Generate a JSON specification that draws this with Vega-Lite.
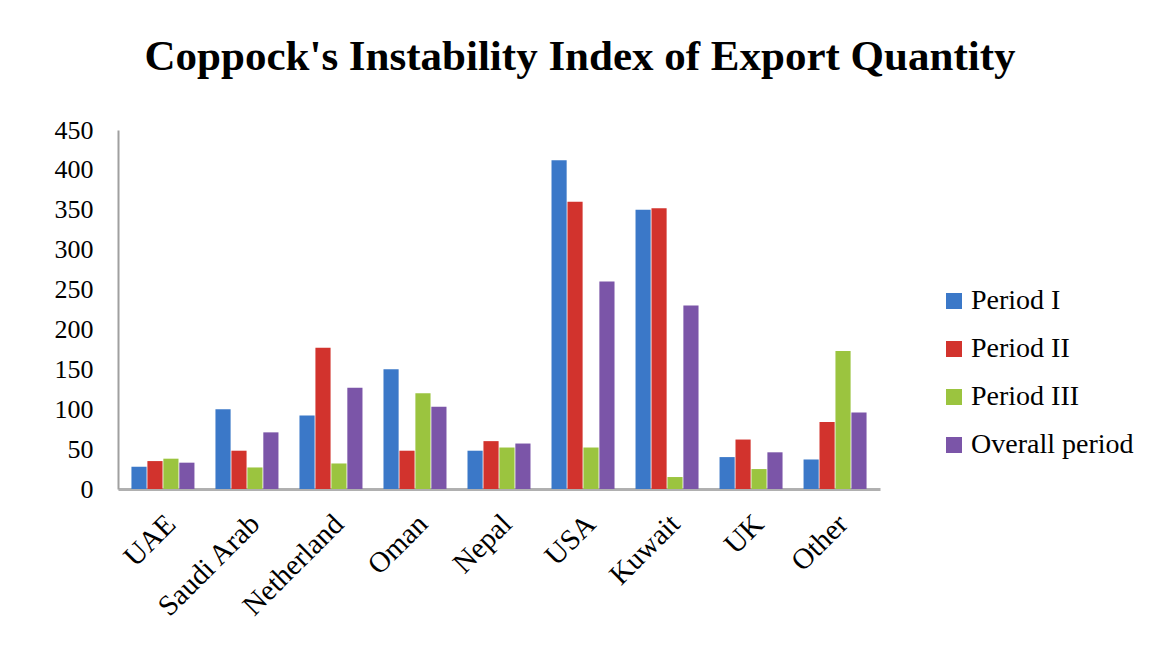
{
  "$schema": "https://vega.github.io/schema/vega-lite/v6.json",
  "autosize": "none",
  "width": 762,
  "height": 359,
  "padding": {"left": 118, "top": 130, "right": 272, "bottom": 167},
  "background": "white",
  "title": {
    "text": "Coppock's Instability Index of Export Quantity",
    "font": "Liberation Serif",
    "fontSize": 43,
    "fontWeight": "bold",
    "color": "black",
    "anchor": "middle",
    "dx": 81,
    "baseline": "alphabetic",
    "offset": 4
  },
  "data": {
    "values": [
      {"country": "UAE", "period": "Period I", "value": 28},
      {"country": "UAE", "period": "Period II", "value": 35},
      {"country": "UAE", "period": "Period III", "value": 38},
      {"country": "UAE", "period": "Overall period", "value": 33},
      {"country": "Saudi Arab", "period": "Period I", "value": 100},
      {"country": "Saudi Arab", "period": "Period II", "value": 48},
      {"country": "Saudi Arab", "period": "Period III", "value": 27},
      {"country": "Saudi Arab", "period": "Overall period", "value": 71},
      {"country": "Netherland", "period": "Period I", "value": 92},
      {"country": "Netherland", "period": "Period II", "value": 177},
      {"country": "Netherland", "period": "Period III", "value": 32},
      {"country": "Netherland", "period": "Overall period", "value": 127},
      {"country": "Oman", "period": "Period I", "value": 150},
      {"country": "Oman", "period": "Period II", "value": 48},
      {"country": "Oman", "period": "Period III", "value": 120},
      {"country": "Oman", "period": "Overall period", "value": 103},
      {"country": "Nepal", "period": "Period I", "value": 48},
      {"country": "Nepal", "period": "Period II", "value": 60},
      {"country": "Nepal", "period": "Period III", "value": 52},
      {"country": "Nepal", "period": "Overall period", "value": 57},
      {"country": "USA", "period": "Period I", "value": 412},
      {"country": "USA", "period": "Period II", "value": 360},
      {"country": "USA", "period": "Period III", "value": 52},
      {"country": "USA", "period": "Overall period", "value": 260},
      {"country": "Kuwait", "period": "Period I", "value": 350},
      {"country": "Kuwait", "period": "Period II", "value": 352},
      {"country": "Kuwait", "period": "Period III", "value": 15},
      {"country": "Kuwait", "period": "Overall period", "value": 230},
      {"country": "UK", "period": "Period I", "value": 40},
      {"country": "UK", "period": "Period II", "value": 62},
      {"country": "UK", "period": "Period III", "value": 25},
      {"country": "UK", "period": "Overall period", "value": 46},
      {"country": "Other", "period": "Period I", "value": 37},
      {"country": "Other", "period": "Period II", "value": 84},
      {"country": "Other", "period": "Period III", "value": 173},
      {"country": "Other", "period": "Overall period", "value": 96}
    ]
  },
  "mark": {"type": "bar", "stroke": null},
  "encoding": {
    "x": {
      "field": "country",
      "type": "nominal",
      "sort": ["UAE", "Saudi Arab", "Netherland", "Oman", "Nepal", "USA", "Kuwait", "UK", "Other"],
      "scale": {"paddingInner": 0.25, "paddingOuter": 0.16},
      "axis": {
        "title": null,
        "labelAngle": -45,
        "labelAlign": "right",
        "labelBaseline": "middle",
        "labelFont": "Liberation Serif",
        "labelFontSize": 29,
        "labelColor": "black",
        "labelPadding": 30,
        "labelOffset": 8,
        "ticks": false,
        "domainColor": "#b0b0b0",
        "domainWidth": 3
      }
    },
    "xOffset": {
      "field": "period",
      "type": "nominal",
      "sort": ["Period I", "Period II", "Period III", "Overall period"],
      "scale": {"paddingInner": 0.05}
    },
    "y": {
      "field": "value",
      "type": "quantitative",
      "scale": {"domain": [0, 450]},
      "axis": {
        "title": null,
        "values": [0, 50, 100, 150, 200, 250, 300, 350, 400, 450],
        "grid": false,
        "ticks": false,
        "labelFont": "Liberation Serif",
        "labelFontSize": 26,
        "labelColor": "black",
        "labelPadding": 25,
        "domainColor": "#a0a0a0",
        "domainWidth": 2
      }
    },
    "color": {
      "field": "period",
      "type": "nominal",
      "sort": ["Period I", "Period II", "Period III", "Overall period"],
      "scale": {
        "domain": ["Period I", "Period II", "Period III", "Overall period"],
        "range": ["#3b78c8", "#d2332d", "#9bc43f", "#7b55a8"]
      },
      "legend": {
        "title": null,
        "orient": "none",
        "legendX": 822,
        "legendY": 157,
        "padding": 0,
        "symbolType": "square",
        "symbolSize": 256,
        "symbolStrokeWidth": 0,
        "labelFont": "Liberation Serif",
        "labelFontSize": 28,
        "labelColor": "black",
        "labelOffset": 3,
        "rowPadding": 20,
        "labelLimit": 300
      }
    }
  },
  "config": {
    "view": {"stroke": null}
  }
}
